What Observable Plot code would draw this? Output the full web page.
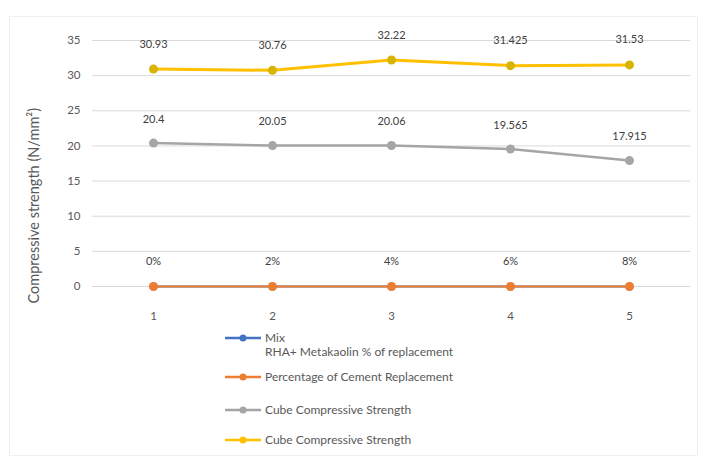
<!DOCTYPE html>
<html>
<head>
<meta charset="utf-8">
<script src="https://cdn.jsdelivr.net/npm/d3@7"></script>
<script src="https://cdn.jsdelivr.net/npm/@observablehq/plot@0.6"></script>
<style>
  html, body { margin: 0; padding: 0; background: #fff; }
  #wrap { position: relative; width: 705px; height: 461px; font-family: Lato, "Open Sans", sans-serif; overflow: hidden; }
  #frame { position: absolute; left: 9px; top: 16px; width: 687px; height: 438px; border: 1px solid #f0f0f0; pointer-events: none; }
  #chart { position: absolute; left: 0; top: 0; }
  .leg { position: absolute; left: 224px; display: flex; align-items: flex-start; font-size: 12px; color: #595959; line-height: 14px; }
  .leg svg { flex: none; margin-right: 3px; }
</style>
</head>
<body>
<div id="wrap">
  <div id="frame"></div>
  <div id="chart"></div>
  <div id="legend"></div>
</div>
<script>
// Data
const mix = [1, 2, 3, 4, 5];
const cementReplacement = [0, 0, 0, 0, 0];
const cementReplacementLabels = ["0%", "2%", "4%", "6%", "8%"];
const strengthGray = [20.4, 20.05, 20.06, 19.565, 17.915];
const strengthGrayLabels = ["20.4", "20.05", "20.06", "19.565", "17.915"];
const strengthYellow = [30.93, 30.76, 32.22, 31.425, 31.53];
const strengthYellowLabels = ["30.93", "30.76", "32.22", "31.425", "31.53"];
const yTicks = [0, 5, 10, 15, 20, 25, 30, 35];
const xTickLabels = ["1", "2", "3", "4", "5"];
const yTitle = "Compressive strength (N/mm²)";

const seriesNames = ["Mix\nRHA+ Metakaolin % of replacement", "Percentage of Cement Replacement", "Cube Compressive Strength", "Cube Compressive Strength"];
const seriesColors = ["#4472C4", "#ED7D31", "#A5A5A5", "#FFC000"];

const mixRows = mix.map((m, i) => ({x: m, y: 0}));
const orangeRows = mix.map((m, i) => ({x: m, y: cementReplacement[i], label: cementReplacementLabels[i]}));
const grayRows = mix.map((m, i) => ({x: m, y: strengthGray[i], label: strengthGrayLabels[i]}));
const yellowRows = mix.map((m, i) => ({x: m, y: strengthYellow[i], label: strengthYellowLabels[i]}));

const font = "Lato, 'Open Sans', sans-serif";

const plot = Plot.plot({
  width: 705,
  height: 335,
  marginLeft: 92,
  marginRight: 15,
  marginTop: 40,
  marginBottom: 49,
  style: {fontFamily: font, fontSize: "11px", color: "#595959", background: "transparent"},
  x: {type: "point", domain: mix, padding: 0.5, align: 0.5},
  y: {domain: [0, 35]},
  marks: [
    Plot.gridY(yTicks, {stroke: "#d9d9d9", strokeOpacity: 1, strokeWidth: 1}),
    Plot.axisY(yTicks, {tickSize: 0, tickPadding: 12, label: null, fontSize: 11.5, fill: "#595959"}),
    Plot.axisX(mix, {tickSize: 0, tickPadding: 25, label: null, tickFormat: (d, i) => xTickLabels[i], fontSize: 11.5, fill: "#595959"}),
    Plot.text([yTitle], {frameAnchor: "left", dx: -58, dy: 140, rotate: -90, fontSize: 14.5, fill: "#595959"}),
    // Mix series (hidden under orange)
    Plot.line(mixRows, {x: "x", y: "y", stroke: seriesColors[0], strokeWidth: 2}),
    Plot.dot(mixRows, {x: "x", y: "y", r: 4, fill: seriesColors[0]}),
    // Orange
    Plot.line(orangeRows, {x: "x", y: "y", stroke: seriesColors[1], strokeWidth: 2}),
    Plot.dot(orangeRows, {x: "x", y: "y", r: 4.5, fill: seriesColors[1]}),
    Plot.text(orangeRows, {x: "x", y: "y", text: "label", dy: -25, fontSize: 11, fill: "#404040"}),
    // Gray
    Plot.line(grayRows, {x: "x", y: "y", stroke: seriesColors[2], strokeWidth: 2.5}),
    Plot.dot(grayRows, {x: "x", y: "y", r: 4.5, fill: seriesColors[2]}),
    Plot.text(grayRows, {x: "x", y: "y", text: "label", dy: -24, fontSize: 11, fill: "#404040"}),
    // Yellow
    Plot.line(yellowRows, {x: "x", y: "y", stroke: seriesColors[3], strokeWidth: 3}),
    Plot.dot(yellowRows, {x: "x", y: "y", r: 4.5, fill: "#D6B400"}),
    Plot.text(yellowRows, {x: "x", y: "y", text: "label", dy: -25, fontSize: 11, fill: "#404040"})
  ]
});
document.getElementById("chart").appendChild(plot);

// Legend (HTML, below the SVG)
const legendTops = [331, 370, 403, 433];
const legend = document.getElementById("legend");
seriesNames.forEach((name, i) => {
  const item = document.createElement("div");
  item.className = "leg";
  item.style.top = legendTops[i] + "px";
  const c = seriesColors[i];
  item.innerHTML = `<svg width="38" height="14"><line x1="1" y1="7" x2="37" y2="7" stroke="${c}" stroke-width="2.5"/><circle cx="19" cy="7" r="3.5" fill="${c}"/></svg>`;
  const span = document.createElement("span");
  span.style.whiteSpace = "pre";
  span.textContent = name;
  item.appendChild(span);
  legend.appendChild(item);
});
</script>
</body>
</html>
